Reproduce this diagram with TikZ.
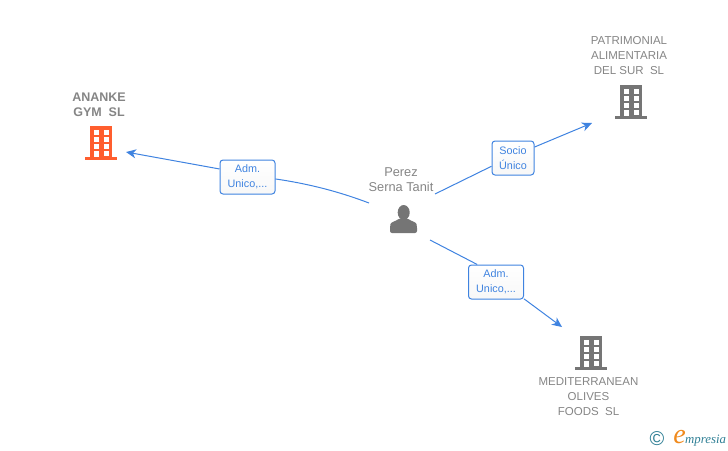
\documentclass[tikz,border=0pt]{standalone}
\usepackage{fontspec}
\setmainfont{Liberation Sans}
\newfontfamily\logofont{Liberation Serif}
\usetikzlibrary{arrows.meta}
\definecolor{azul}{HTML}{3F83E0}
\definecolor{gris}{HTML}{858585}
\definecolor{grisicono}{HTML}{757575}
\definecolor{naranja}{HTML}{FF5E2E}
\definecolor{verdelogo}{HTML}{2F7F95}
\definecolor{naranjalogo}{HTML}{F08A1D}
\tikzset{
  nombre/.style={text=gris,align=center,font=\fontsize{11.5}{15}\selectfont,inner sep=0pt},
  rol/.style={draw=azul,line width=1pt,rounded corners=3pt,top color=white,bottom color=black!3,
    text=azul,align=center,font=\fontsize{10.8}{15}\selectfont,inner sep=0pt,
    minimum height=34pt},
  enlace/.style={azul,line width=1pt},
  flecha/.style={enlace,-{Stealth[length=10pt,width=9pt,inset=3pt]}},
  pics/edificio/.style={code={
    \fill[#1] (-11,-16) rectangle (11,15);
    \fill[#1] (-16,15) rectangle (16,18);
    \foreach \y in {-12,-5,2}
      \foreach \x in {-7,3}
        \fill[white] (\x,\y) rectangle ++(4.5,4.5);
    \fill[white] (3,9) rectangle ++(4.5,4.5);
    \fill[white] (-7,9) rectangle (-2.5,15);
  }},
}
\begin{document}
\begin{tikzpicture}[x=1pt,y=-1pt]
  \useasboundingbox (0,0) rectangle (728,450);
  % empresas
  \pic at (101,142) {edificio=naranja};
  \node[nombre,font=\fontsize{12.5}{15}\selectfont\bfseries] (ananke) at (99,104.5) {ANANKE\\GYM\ \ SL};
  \pic at (631,101) {edificio=grisicono};
  \node[nombre] (patrimonial) at (629,55.5) {PATRIMONIAL\\ALIMENTARIA\\DEL SUR\ \ SL};
  \pic at (591,352) {edificio=grisicono};
  \node[nombre] (mediterranean) at (588.5,396.5) {MEDITERRANEAN\\OLIVES\\FOODS\ \ SL};
  % persona
  \node[nombre,font=\fontsize{12.8}{15}\selectfont] (perez) at (401,179.5) {Perez\\Serna Tanit};
  \fill[grisicono] (403.7,212.5) ellipse [x radius=6,y radius=7.5];
  \fill[grisicono,rounded corners=2pt] (390,233) -- (390,226) .. controls (391,222) and (396,221) .. (400,218)
    -- (407,218) .. controls (411,221) and (416,222) .. (417,226) -- (417,233) -- cycle;
  % roles
  \node[rol,minimum width=55pt] (admA) at (247.5,177) {Adm.\\Unico,...};
  \node[rol,minimum width=42pt] (socio) at (513,158) {Socio\\Único};
  \node[rol,minimum width=55pt] (admB) at (496,282) {Adm.\\Unico,...};
  % extremos libres
  \coordinate (salidaA) at (369,203);
  \coordinate (salidaB) at (435,194);
  \coordinate (salidaC) at (430,240);
  \coordinate (llegadaA) at (126,152);
  \coordinate (llegadaB) at (592,123);
  \coordinate (llegadaC) at (562,327);
  % conexiones
  \draw[enlace] (salidaA) .. controls (340,192) and (310,184) .. (admA.-4);
  \draw[flecha] (admA.164) -- (llegadaA);
  \draw[enlace] (salidaB) -- (socio.201);
  \draw[flecha] (socio.27) -- (llegadaB);
  \draw[enlace] (salidaC) -- (admB.137);
  \draw[flecha] (admB.-31) -- (llegadaC);
  % logo
  \node[text=verdelogo,font=\fontsize{20}{20}\selectfont,inner sep=0pt] (copyright) at (657,439) {\textcopyright};
  \node[text=verdelogo,font=\logofont\itshape\fontsize{12.8}{14}\selectfont,inner sep=0pt,anchor=base west] (marca) at (685,443) {mpresia};
  \node[text=naranjalogo,font=\logofont\itshape\fontsize{28}{28}\selectfont,inner sep=0pt,anchor=base east] (inicial) at ([xshift=1pt]marca.base west) {e};
\end{tikzpicture}
\end{document}
